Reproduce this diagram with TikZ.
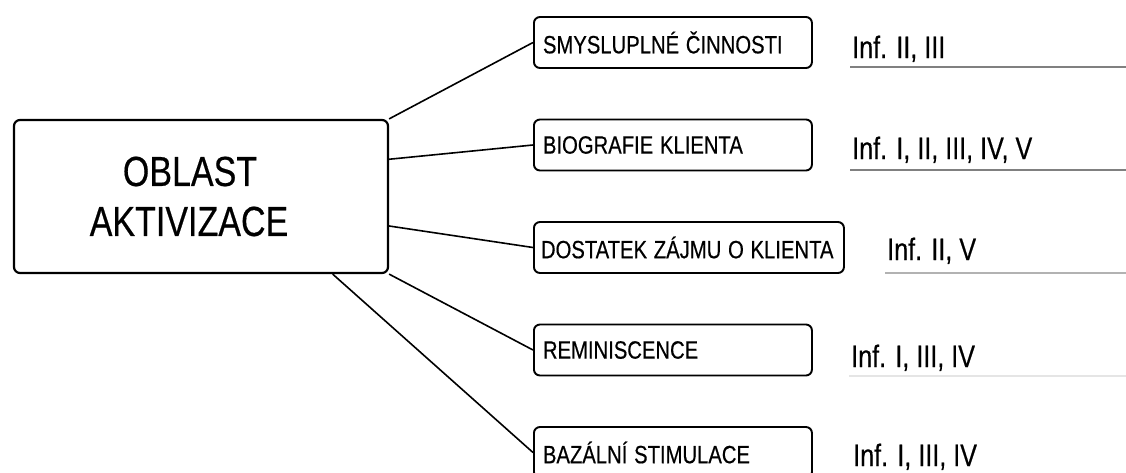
\documentclass[tikz,border=0pt]{standalone}
\usepackage{fontspec}
\setmainfont[FakeBold=0.5]{Liberation Sans}
\usepackage{graphicx}
\usepackage{tikz}
\usetikzlibrary{calc}

% uzke pismo (jako Arial Narrow)
\newcommand{\uzky}[1]{\scalebox{0.81}[1]{#1}}

\begin{document}
\begin{tikzpicture}[x=1pt,y=-1pt,
  hlavni/.style={draw,line width=2.2pt,rounded corners=6pt,minimum width=374pt,minimum height=153pt,align=center,font=\fontsize{42}{50}\selectfont},
  oblast/.style={draw,line width=1.9pt,rounded corners=6pt,minimum height=51pt,anchor=west,inner xsep=9pt,inner ysep=0pt,text width=260pt,align=left,font=\fontsize{25}{30}\selectfont},
  inf/.style={anchor=base west,inner sep=0pt,font=\fontsize{31}{36}\selectfont},
  spoj/.style={line width=1.6pt},
  linka/.style={line width=1.3pt}]
\useasboundingbox (0,0) rectangle (1126,472);

% hlavni oblast
\node[hlavni] (main) at (201,196.5) {\uzky{OBLAST}\hspace*{22pt}\\\uzky{AKTIVIZACE}\hspace*{24pt}};

% dilci oblasti
\node[oblast] (smysl) at (533,42.5) {\uzky{SMYSLUPLNÉ ČINNOSTI}};
\node[oblast] (bio) at (533,145) {\uzky{BIOGRAFIE KLIENTA}};
\node[oblast,inner xsep=7pt,text width=296pt] (zajem) at (533,247.5) {\uzky{DOSTATEK ZÁJMU O KLIENTA}};
\node[oblast] (remin) at (533,350) {\uzky{REMINISCENCE}};
\node[oblast] (bazal) at (533,452.5) {\uzky{BAZÁLNÍ STIMULACE}};

\draw[spoj] (main.north east) -- (smysl.west);
\draw[spoj] ($(main.north east)!0.26!(main.south east)$) -- (bio.west);
\draw[spoj] ($(main.north east)!0.69!(main.south east)$) -- (zajem.west);
\draw[spoj] (main.south east) -- (remin.west);
\draw[spoj] ($(main.south west)!0.85!(main.south east)$) -- (bazal.west);

% informanti
\node[inf] (inf1) at (852,58) {\uzky{Inf. II, III}};
\node[inf] (inf2) at (852,159) {\uzky{Inf. I, II, III, IV, V}};
\node[inf] (inf3) at (887,260) {\uzky{Inf. II, V}};
\node[inf] (inf4) at (851,367) {\uzky{Inf. I, III, IV}};
\node[inf] (inf5) at (853,466) {\uzky{Inf. I, III, IV}};

\coordinate (okraj) at (1126,0);
\foreach \n/\d/\c in {inf1/9/gray, inf2/11/gray, inf3/13/gray!60, inf4/9/gray!20}
{
  \path ([xshift=-2pt,yshift=-\d pt]\n.base west) coordinate (pod);
  \draw[linka,\c] (pod) -- (pod -| okraj);
}
\end{tikzpicture}
\end{document}
